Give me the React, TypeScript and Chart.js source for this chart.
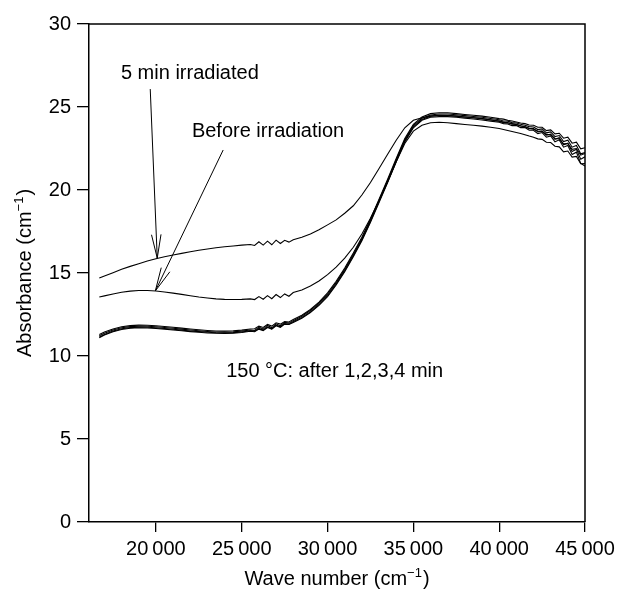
import React, { useEffect, useRef } from 'react';
import { Chart, registerables } from 'chart.js';

Chart.register(...registerables);

// ---------- data ----------
const waveNumbers = [
  16700, 17000, 17500, 18000, 18500, 19000, 19500, 20000, 20500, 21000, 21500, 22000, 22500, 23000, 23500, 24000, 24500, 25000, 25500,
  25750, 26000, 26250, 26500, 26750, 27000, 27250, 27500, 27750,
  28000, 28500, 29000, 29500, 30000, 30500, 31000, 31500, 32000, 32500, 33000, 33500, 34000, 34500, 35000, 35500, 36000, 36500, 37000, 37500, 38000, 38500, 39000, 39500, 40000,
  40250, 40500, 40750, 41000, 41250, 41500, 41750, 42000, 42250, 42500, 42750, 43000, 43250, 43500, 43750, 44000, 44250, 44500, 44750, 45000,
];

const irradiated5min = [
  14.7, 14.82, 15.02, 15.22, 15.4, 15.56, 15.72, 15.86, 15.98, 16.08, 16.18, 16.28, 16.37, 16.45, 16.52, 16.58, 16.63, 16.68, 16.72,
  16.66, 16.88, 16.68, 16.92, 16.7, 16.98, 16.78, 16.97, 16.86,
  17.0, 17.15, 17.35, 17.6, 17.9, 18.2, 18.6, 19.05, 19.7, 20.45, 21.3, 22.15, 23.0, 23.75, 24.2, 24.35, 24.45, 24.5, 24.48, 24.45, 24.4, 24.35, 24.3, 24.22, 24.15,
  24.1, 24.04, 24.0, 23.94, 23.87, 23.8, 23.72, 23.66, 23.55, 23.52, 23.35, 23.32, 23.1, 23.08, 22.78, 22.8, 22.45, 22.5, 22.1, 22.2,
];

const beforeIrradiation = [
  13.55, 13.62, 13.74, 13.84, 13.91, 13.95, 13.95, 13.92, 13.86, 13.79, 13.71, 13.63, 13.55, 13.49, 13.44, 13.41, 13.4, 13.41, 13.44,
  13.4, 13.58, 13.42, 13.64, 13.45, 13.7, 13.52, 13.74, 13.6,
  13.82, 13.98, 14.22, 14.52, 14.9, 15.35, 15.9, 16.55, 17.35, 18.3, 19.35, 20.5, 21.7, 22.8, 23.55, 23.9, 24.05, 24.08, 24.05, 24.0, 23.95, 23.9, 23.85, 23.78, 23.7,
  23.64, 23.58, 23.52, 23.46, 23.4, 23.33, 23.25, 23.18, 23.08, 23.05, 22.88, 22.86, 22.64, 22.6, 22.3, 22.35, 21.98, 22.02, 21.58, 21.6,
];

const heated1min = [
  11.3, 11.44, 11.63, 11.76, 11.83, 11.86, 11.85, 11.82, 11.78, 11.73, 11.68, 11.63, 11.58, 11.54, 11.51, 11.5, 11.52, 11.56, 11.63,
  11.64, 11.8, 11.72, 11.9, 11.8, 12.0, 11.92, 12.08, 12.05,
  12.2, 12.46, 12.8, 13.25, 13.8, 14.5, 15.3, 16.2, 17.15, 18.25, 19.45, 20.65, 21.9, 23.1, 23.95, 24.4, 24.6, 24.65, 24.65, 24.6, 24.55, 24.5, 24.45, 24.38, 24.3,
  24.27, 24.2, 24.16, 24.1, 24.04, 24.0, 23.92, 23.9, 23.78, 23.78, 23.58, 23.62, 23.38, 23.42, 23.12, 23.18, 22.82, 22.88, 22.48, 22.55,
];

const heated2min = [
  11.22, 11.37, 11.57, 11.7, 11.77, 11.8, 11.79, 11.76, 11.72, 11.67, 11.62, 11.57, 11.52, 11.48, 11.45, 11.44, 11.46, 11.5, 11.57,
  11.54, 11.74, 11.62, 11.84, 11.7, 11.94, 11.82, 12.03, 11.98,
  12.13, 12.4, 12.74, 13.18, 13.72, 14.42, 15.22, 16.12, 17.08, 18.18, 19.38, 20.58, 21.82, 23.02, 23.88, 24.32, 24.52, 24.58, 24.58, 24.53, 24.48, 24.43, 24.38, 24.31, 24.23,
  24.16, 24.15, 24.06, 24.04, 23.96, 23.9, 23.82, 23.8, 23.64, 23.68, 23.44, 23.5, 23.22, 23.28, 22.92, 23.0, 22.58, 22.68, 22.18, 22.25,
];

const heated3min = [
  11.15, 11.3, 11.5, 11.64, 11.71, 11.74, 11.73, 11.7, 11.66, 11.61, 11.56, 11.51, 11.47, 11.43, 11.4, 11.39, 11.41, 11.45, 11.52,
  11.5, 11.66, 11.56, 11.76, 11.64, 11.86, 11.76, 11.96, 11.92,
  12.06, 12.32, 12.66, 13.1, 13.64, 14.34, 15.14, 16.04, 17.0, 18.1, 19.3, 20.5, 21.75, 22.95, 23.8, 24.25, 24.45, 24.5, 24.5, 24.45, 24.4, 24.35, 24.3, 24.23, 24.15,
  24.06, 24.06, 23.96, 23.96, 23.86, 23.83, 23.7, 23.7, 23.5, 23.56, 23.3, 23.36, 23.05, 23.15, 22.72, 22.82, 22.32, 22.46, 21.85, 22.0,
];

const heated4min = [
  11.1, 11.26, 11.46, 11.6, 11.67, 11.7, 11.69, 11.66, 11.62, 11.57, 11.52, 11.47, 11.43, 11.39, 11.37, 11.36, 11.38, 11.42, 11.49,
  11.46, 11.62, 11.53, 11.72, 11.62, 11.82, 11.73, 11.92, 11.9,
  12.02, 12.28, 12.62, 13.05, 13.58, 14.28, 15.08, 15.98, 16.95, 18.05, 19.25, 20.45, 21.7, 22.9, 23.75, 24.2, 24.38, 24.42, 24.42, 24.38, 24.33, 24.28, 24.22, 24.15, 24.08,
  24.0, 23.98, 23.88, 23.88, 23.76, 23.76, 23.6, 23.6, 23.4, 23.46, 23.18, 23.26, 22.9, 23.02, 22.58, 22.68, 22.14, 22.28, 21.6, 21.45,
];

const xTickValues = [20000, 25000, 30000, 35000, 40000, 45000];
const xTickLabels = ['20\u2009000', '25\u2009000', '30\u2009000', '35\u2009000', '40\u2009000', '45\u2009000'];
const yTickValues = [0, 5, 10, 15, 20, 25, 30];
const yTickLabels = ['0', '5', '10', '15', '20', '25', '30'];

const xTitle = { main: 'Wave number (cm', sup: '\u22121', tail: ')' };
const yTitle = { main: 'Absorbance (cm', sup: '\u22121', tail: ')' };

const noteTexts = ['5 min irradiated', 'Before irradiation', '150 \u00B0C: after 1,2,3,4 min'];
// anchor (left, baseline) in data units
const noteX = [17960, 22095, 24090];
const noteY = [26.67, 23.21, 8.75];

// arrows: tail -> head, data units
const arrowFromX = [19668, 23918];
const arrowFromY = [26.08, 22.41];
const arrowToX = [20076, 19965];
const arrowToY = [15.9, 13.92];

const FONT = '"Liberation Sans", Arial, Helvetica, sans-serif';

function drawSupText(ctx: CanvasRenderingContext2D, t: { main: string; sup: string; tail: string }) {
  ctx.font = `20px ${FONT}`;
  const w1 = ctx.measureText(t.main).width;
  const w3 = ctx.measureText(t.tail).width;
  ctx.font = `13px ${FONT}`;
  const w2 = ctx.measureText(t.sup).width;
  const total = w1 + w2 + w3 + 1;
  let cx = -total / 2;
  ctx.textAlign = 'left';
  ctx.textBaseline = 'alphabetic';
  ctx.font = `20px ${FONT}`;
  ctx.fillText(t.main, cx, 0);
  cx += w1;
  ctx.font = `13px ${FONT}`;
  ctx.fillText(t.sup, cx, -8);
  cx += w2 + 1;
  ctx.font = `20px ${FONT}`;
  ctx.fillText(t.tail, cx, 0);
}

const decorPlugin = {
  id: 'decor',
  afterDraw(chart: any) {
    const { ctx, chartArea: ca, scales } = chart;
    const xs = scales.x;
    const ys = scales.y;
    ctx.save();
    ctx.strokeStyle = '#000';
    ctx.fillStyle = '#000';
    ctx.lineWidth = 1.5;
    ctx.beginPath();
    ctx.moveTo(ca.left, ca.top);
    ctx.lineTo(ca.right, ca.top);
    ctx.lineTo(ca.right, ca.bottom);
    ctx.stroke();

    ctx.font = `20px ${FONT}`;
    ctx.textAlign = 'left';
    ctx.textBaseline = 'alphabetic';
    noteTexts.forEach((t, i) => {
      ctx.fillText(t, xs.getPixelForValue(noteX[i]), ys.getPixelForValue(noteY[i]));
    });

    ctx.lineWidth = 1;
    arrowFromX.forEach((_, i) => {
      const x0 = xs.getPixelForValue(arrowFromX[i]);
      const y0 = ys.getPixelForValue(arrowFromY[i]);
      const x1 = xs.getPixelForValue(arrowToX[i]);
      const y1 = ys.getPixelForValue(arrowToY[i]);
      ctx.beginPath();
      ctx.moveTo(x0, y0);
      ctx.lineTo(x1, y1);
      ctx.stroke();
      const ang = Math.atan2(y1 - y0, x1 - x0);
      const len = 24;
      const spread = 0.2;
      ctx.beginPath();
      ctx.moveTo(x1 - len * Math.cos(ang - spread), y1 - len * Math.sin(ang - spread));
      ctx.lineTo(x1, y1);
      ctx.lineTo(x1 - len * Math.cos(ang + spread), y1 - len * Math.sin(ang + spread));
      ctx.stroke();
    });

    // x title
    ctx.save();
    ctx.translate((ca.left + ca.right) / 2, 585);
    drawSupText(ctx, xTitle);
    ctx.restore();
    // y title
    ctx.save();
    ctx.translate(31, (ca.top + ca.bottom) / 2);
    ctx.rotate(-Math.PI / 2);
    drawSupText(ctx, yTitle);
    ctx.restore();

    ctx.restore();
  },
};

function toPoints(vals: number[]) {
  return waveNumbers.map((w, i) => ({ x: w, y: vals[i] }));
}

export default function App() {
  const ref = useRef<HTMLCanvasElement | null>(null);
  useEffect(() => {
    if (!ref.current) return;
    const series = [irradiated5min, beforeIrradiation, heated1min, heated2min, heated3min, heated4min];
    const chart = new Chart(ref.current, {
      type: 'line',
      data: {
        datasets: series.map((s, i) => ({
          label: `s${i}`,
          data: toPoints(s),
          borderColor: '#000',
          borderWidth: 1.1,
          pointRadius: 0,
          tension: 0,
          fill: false,
        })),
      },
      options: {
        animation: false,
        responsive: false,
        devicePixelRatio: 1,
        layout: { padding: { left: 0, right: 35, top: 24, bottom: 0 } },
        plugins: { legend: { display: false }, tooltip: { enabled: false }, title: { display: false } },
        scales: {
          x: {
            type: 'linear',
            min: 16100,
            max: 45000,
            afterBuildTicks: (s: any) => {
              s.ticks = xTickValues.map((v) => ({ value: v }));
            },
            afterFit: (s: any) => {
              s.height = 69;
            },
            grid: { drawOnChartArea: false, drawTicks: true, tickLength: 10, color: '#000', lineWidth: 1.3 },
            border: { display: true, color: '#000', width: 1.5 },
            ticks: {
              color: '#000',
              font: { family: FONT, size: 20 },
              padding: 5,
              maxRotation: 0,
              autoSkip: false,
              callback: (_v: any, i: number) => xTickLabels[i],
            },
          },
          y: {
            type: 'linear',
            min: 0,
            max: 30,
            afterBuildTicks: (s: any) => {
              s.ticks = yTickValues.map((v) => ({ value: v }));
            },
            afterFit: (s: any) => {
              s.width = 89;
            },
            grid: { drawOnChartArea: false, drawTicks: true, tickLength: 12, color: '#000', lineWidth: 1.3 },
            border: { display: true, color: '#000', width: 1.5 },
            ticks: {
              color: '#000',
              font: { family: FONT, size: 20 },
              padding: 6,
              autoSkip: false,
              callback: (_v: any, i: number) => yTickLabels[i],
            },
          },
        },
      },
      plugins: [decorPlugin],
    } as any);
    return () => chart.destroy();
  }, []);
  return (
    <div style={{ position: 'absolute', left: 0, top: 0, width: 620, height: 591, background: '#fff' }}>
      <canvas ref={ref} width={620} height={591} style={{ width: 620, height: 591, display: 'block' }} />
    </div>
  );
}
